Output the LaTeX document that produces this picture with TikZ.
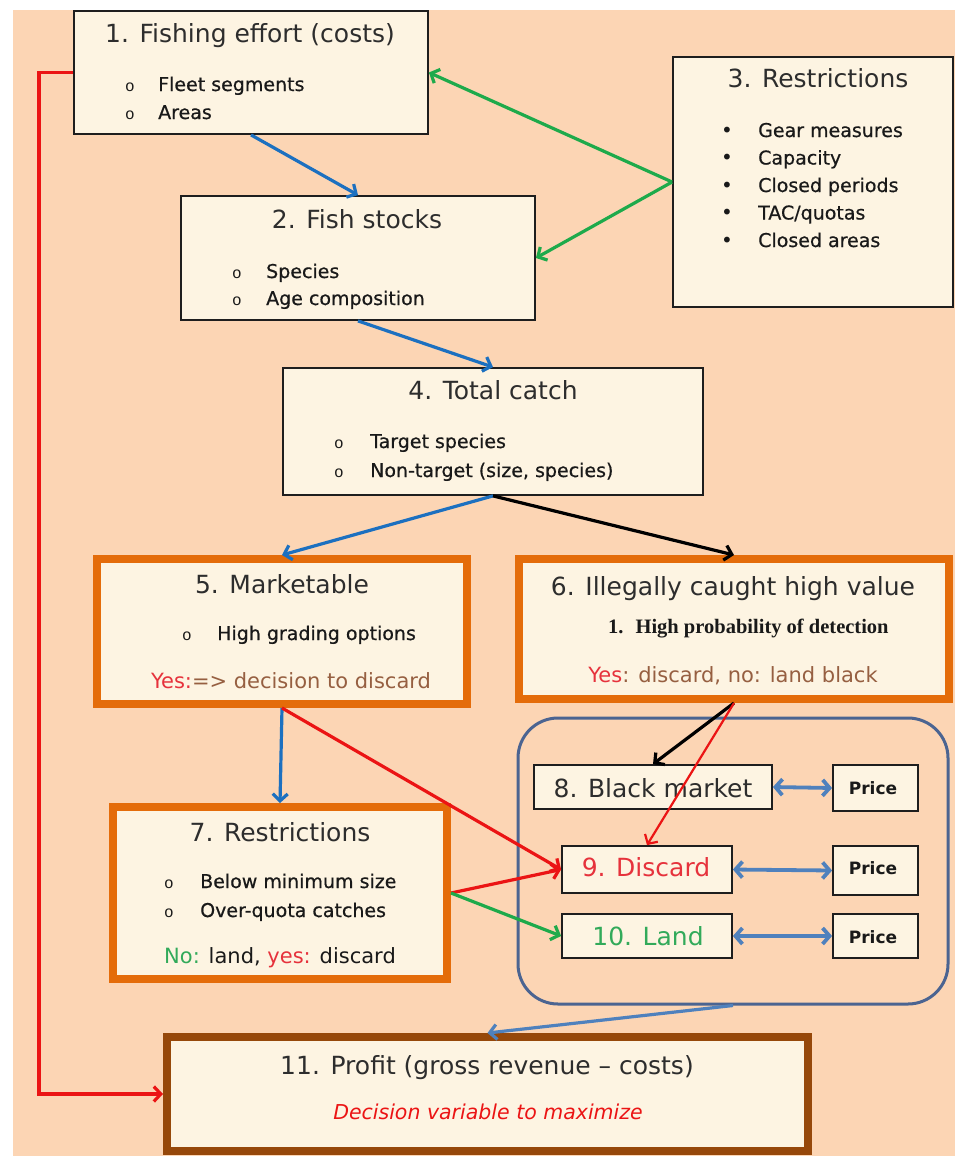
\documentclass[tikz,border=0pt]{standalone}
\usepackage{fontspec}
\setmainfont{DejaVu Sans}
\newfontfamily\itemfont[FakeBold=0.6]{DejaVu Sans}
\newfontfamily\serifbold{Liberation Serif}
\newfontfamily\monobul{Liberation Mono}
\usetikzlibrary{arrows.meta}
\definecolor{peach}{RGB}{252,213,180}
\definecolor{cream}{RGB}{253,244,226}
\definecolor{boxline}{RGB}{30,30,30}
\definecolor{orangeb}{RGB}{228,108,10}
\definecolor{brownb}{RGB}{150,72,10}
\definecolor{ink}{RGB}{45,45,45}
\definecolor{inkdark}{RGB}{25,25,25}
\definecolor{bluea}{RGB}{28,112,192}
\definecolor{blueb}{RGB}{79,129,189}
\definecolor{greena}{RGB}{30,170,75}
\definecolor{reda}{RGB}{235,20,20}
\definecolor{grpline}{RGB}{75,100,145}
\definecolor{redtxt}{RGB}{230,50,60}
\definecolor{greentxt}{RGB}{50,170,90}
\definecolor{browntxt}{RGB}{150,95,65}
\begin{document}
\begin{tikzpicture}[x=1pt,y=-1pt,
  box/.style={draw=boxline, line width=1.8pt, fill=cream, inner sep=0pt},
  obox/.style={draw=orangeb, line width=8pt, fill=cream, inner sep=0pt},
  bbox/.style={draw=brownb, line width=8pt, fill=cream, inner sep=0pt},
  title/.style={font=\fontsize{25}{30}\selectfont, text=ink, anchor=base, inner sep=0pt},
  item/.style={font=\itemfont\fontsize{19}{23}\selectfont, text=inkdark, anchor=base west, inner sep=0pt},
  note/.style={font=\fontsize{21}{25}\selectfont, text=browntxt, anchor=base, inner sep=0pt},
  bul/.style={font=\monobul\fontsize{16}{18}\selectfont, text=inkdark, anchor=base, inner sep=0pt},
  dotbul/.style={font=\fontsize{20}{24}\selectfont, text=inkdark, anchor=base, inner sep=0pt},
  pricet/.style={font=\bfseries\fontsize{17}{20}\selectfont, text=inkdark, anchor=base, inner sep=0pt},
  arr/.style={line width=3.2pt, -{Straight Barb[length=7pt,width=15pt]}},
  darr/.style={line width=3.8pt, {Straight Barb[length=7pt,width=16pt]}-{Straight Barb[length=7pt,width=16pt]}}
]
\useasboundingbox (0,0) rectangle (955,1156);
\fill[white] (0,0) rectangle (955,1156);
\fill[peach] (13,10) rectangle (955,1156);

% group
\node[draw=grpline, line width=3pt, rounded corners=40pt, minimum width=430pt, minimum height=286pt, inner sep=0pt] (grp) at (733,861) {};

% boxes
\node[box, minimum width=354pt, minimum height=123pt] (b1) at (251,72.5) {};
\node[box, minimum width=354pt, minimum height=124pt] (b2) at (358,258) {};
\node[box, minimum width=280pt, minimum height=250pt] (b3) at (813,182) {};
\node[box, minimum width=420pt, minimum height=127pt] (b4) at (493,431.5) {};
\node[obox, minimum width=370pt, minimum height=145pt] (b5) at (282,631.5) {};
\node[obox, minimum width=430pt, minimum height=140pt] (b6) at (734,629) {};
\node[obox, minimum width=334pt, minimum height=172pt] (b7) at (280,893) {};
\node[box, minimum width=238pt, minimum height=44pt] (b8) at (653,787) {};
\node[box, minimum width=170pt, minimum height=47pt] (b9) at (647,869.5) {};
\node[box, minimum width=170pt, minimum height=44pt] (b10) at (647,936) {};
\node[box, minimum width=85pt, minimum height=46pt] (p1) at (875.5,788) {};
\node[box, minimum width=85pt, minimum height=49pt] (p2) at (875.5,870.5) {};
\node[box, minimum width=85pt, minimum height=44pt] (p3) at (875.5,936) {};
\node[bbox, minimum width=641pt, minimum height=114pt] (b11) at (487.5,1094) {};

% box 1 text
\node[title] (t1) at (250,43) {1. Fishing effort (costs)};
\node[bul] (o1a) at (130,91) {o};
\node[item] (i1a) at (158,91) {Fleet segments};
\node[bul] (o1b) at (130,119) {o};
\node[item] (i1b) at (158,119) {Areas};

% box 3 text
\node[title] (t3) at (818,88) {3. Restrictions};
\node[dotbul] (d3a) at (727,137) {•};
\node[item] (i3a) at (758,137) {Gear measures};
\node[dotbul] (d3b) at (727,164.5) {•};
\node[item] (i3b) at (758,164.5) {Capacity};
\node[dotbul] (d3c) at (727,192) {•};
\node[item] (i3c) at (758,192) {Closed periods};
\node[dotbul] (d3d) at (727,219.5) {•};
\node[item] (i3d) at (758,219.5) {TAC/quotas};
\node[dotbul] (d3e) at (727,247) {•};
\node[item] (i3e) at (758,247) {Closed areas};

% box 2 text
\node[title] (t2) at (357,228) {2. Fish stocks};
\node[bul] (o2a) at (237,278) {o};
\node[item] (i2a) at (266,278) {Species};
\node[bul] (o2b) at (237,305) {o};
\node[item] (i2b) at (266,305) {Age composition};

% box 4 text
\node[title] (t4) at (493,399) {4. Total catch};
\node[bul] (o4a) at (339,448) {o};
\node[item] (i4a) at (370,448) {Target species};
\node[bul] (o4b) at (339,477) {o};
\node[item] (i4b) at (370,477) {Non-target (size, species)};

% box 5 text
\node[title] (t5) at (282,593) {5. Marketable};
\node[bul] (o5a) at (187,640) {o};
\node[item] (i5a) at (217,640) {High grading options};
\node[note] (n5) at (291,688) {\textcolor{redtxt}{Yes:}=> decision to discard};

% box 6 text
\node[title] (t6) at (733,595) {6. Illegally caught high value};
\node[anchor=base west, inner sep=0pt, text=inkdark, font=\serifbold\bfseries\fontsize{20.5}{24}\selectfont] (i6a) at (608,633) {1.\hspace{12pt}High probability of detection};
\node[note] (n6) at (733,682) {\textcolor{redtxt}{Yes}: discard, no: land black};

% box 7 text
\node[title] (t7) at (280,841) {7. Restrictions};
\node[bul] (o7a) at (169,888) {o};
\node[item] (i7a) at (200,888) {Below minimum size};
\node[bul] (o7b) at (169,917) {o};
\node[item] (i7b) at (200,917) {Over-quota catches};
\node[note, text=inkdark] (n7) at (280,963) {\textcolor{greentxt}{No:} land, \textcolor{redtxt}{yes:} discard};

% group boxes text
\node[title] (t8) at (653,797) {8. Black market};
\node[title, text=redtxt] (t9) at (646,876) {9. Discard};
\node[title, text=greentxt] (t10) at (648,945) {10. Land};
\node[pricet] (tp1) at (873,794) {Price};
\node[pricet] (tp2) at (873,874) {Price};
\node[pricet] (tp3) at (873,943) {Price};

% box 11 text
\node[title] (t11) at (487,1074) {11. Profit (gross revenue – costs)};
\node[anchor=base, inner sep=0pt, text=reda, font=\itshape\fontsize{20.5}{24}\selectfont] (n11) at (488,1119) {Decision variable to maximize};

% connectors
\coordinate (rc) at (39,72.5);
\draw[arr, reda] (b1.west) -- (rc) |- (b11.west);
\draw[arr, greena] (b3.west) -- (b1.east);
\draw[arr, greena] (b3.west) -- (b2.east);
\draw[arr, bluea] (b1.south) -- (b2.north);
\draw[arr, bluea] (b2.south) -- (b4.north);
\draw[arr, bluea] (b4.south) -- (b5.north);
\draw[arr, black] (b4.south) -- (b6.north);
\draw[arr, black] (b6.south) -- (b8.north);
\draw[arr, reda, line width=2.2pt] (b6.south) -- (b9.north);
\draw[arr, bluea] (b5.south) -- (b7.north);
\draw[arr, reda] (b5.south) -- (b9.west);
\draw[arr, reda] (b7.east) -- (b9.west);
\draw[arr, greena] (b7.east) -- (b10.west);
\draw[darr, blueb] (b8.east) -- (p1.west);
\draw[darr, blueb] (b9.east) -- (p2.west);
\draw[darr, blueb] (b10.east) -- (p3.west);
\draw[arr, blueb] (grp.south) -- (b11.north);
\end{tikzpicture}
\end{document}
